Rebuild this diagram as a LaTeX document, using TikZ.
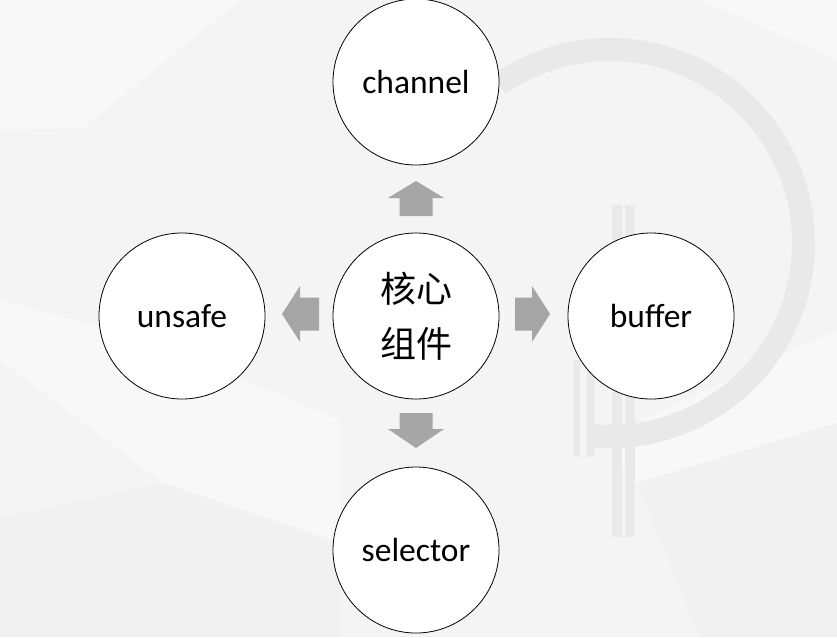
\documentclass[tikz,border=0pt]{standalone}
\usepackage{fontspec}
\setmainfont{Carlito}
\newfontfamily\cjk{Noto Sans CJK SC}
\definecolor{bgbase}{HTML}{F4F4F4}
\definecolor{bglight}{HTML}{F8F8F8}
\definecolor{bgdark}{HTML}{F1F1F1}
\definecolor{ringcol}{HTML}{E9E9E9}
\definecolor{arrcol}{HTML}{A6A6A6}
\tikzset{
  comp/.style={circle, draw=black, line width=0.8pt, fill=white,
    minimum size=166pt, inner sep=0pt, font=\fontsize{33.5}{40}\selectfont},
  core/.style={comp, font=\cjk\fontsize{36}{55}\selectfont, align=center},
  blockarr/.style={fill=arrcol, draw=none},
}
\begin{document}
\begin{tikzpicture}[x=1pt,y=1pt]
\useasboundingbox (0,0) rectangle (837,-637);
% background
\fill[bgbase] (0,0) rectangle (837,-637);
\fill[bglight] (0,0) -- (240,0) -- (83,-128) -- (0,-130) -- cycle;
\fill[bglight] (240,0) -- (837,0) -- (837,-60) -- (700,0) -- cycle;
\fill[bglight] (0,-360) -- (163,-483) -- (340,-543) -- (340,-420) -- (150,-340) -- (0,-300) -- cycle;
\fill[bglight] (600,-440) -- (837,-330) -- (837,-423) -- (637,-483) -- cycle;
\fill[bgdark] (0,-518) -- (163,-483) -- (340,-543) -- (340,-637) -- (0,-637) -- cycle;
\fill[bgdark] (637,-483) -- (837,-423) -- (837,-637) -- (700,-637) -- cycle;
% faint logo ring
\draw[ringcol, line width=23pt] (610,-243) ++(-95:193.5) arc[start angle=-95, end angle=125, radius=193.5];
\fill[ringcol] (612,-205) rectangle (622,-537);
\fill[ringcol] (625,-205) rectangle (635,-537);
\fill[ringcol] (573,-360) rectangle (580,-457);
\fill[ringcol] (587,-360) rectangle (595,-457);
% nodes
\node[core] (core) at (416,-316) {核心\\组件};
\node[comp] (channel) at (416,-82) {channel};
\node[comp] (unsafe) at (182,-316) {unsafe};
\node[comp] (buffer) at (651,-316) {buffer};
\node[comp] (selector) at (416,-550) {selector};
% block arrows
\begin{scope}[shift={(416,-216)}, rotate=90]
  \fill[blockarr] (0,-16.5) -- (18,-16.5) -- (18,-28) -- (35,0) -- (18,28) -- (18,16.5) -- (0,16.5) -- cycle;
\end{scope}
\begin{scope}[shift={(416,-413)}, rotate=-90]
  \fill[blockarr] (0,-16.5) -- (16,-16.5) -- (16,-28) -- (35,0) -- (16,28) -- (16,16.5) -- (0,16.5) -- cycle;
\end{scope}
\begin{scope}[shift={(319,-314)}, rotate=180]
  \fill[blockarr] (0,-16.5) -- (19,-16.5) -- (19,-28) -- (37,0) -- (19,28) -- (19,16.5) -- (0,16.5) -- cycle;
\end{scope}
\begin{scope}[shift={(515,-314)}]
  \fill[blockarr] (0,-16.5) -- (17,-16.5) -- (17,-28) -- (35,0) -- (17,28) -- (17,16.5) -- (0,16.5) -- cycle;
\end{scope}
\end{tikzpicture}
\end{document}
